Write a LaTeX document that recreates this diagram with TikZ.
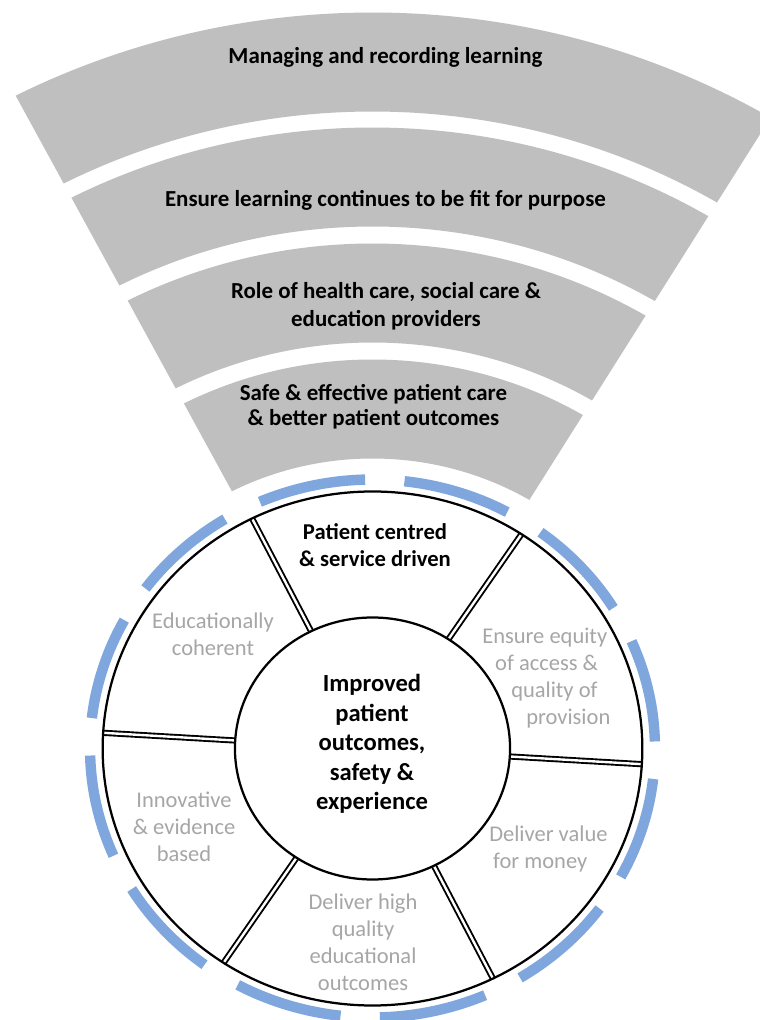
\documentclass[tikz,border=0pt]{standalone}
\usepackage{fontspec}
\setmainfont{Carlito}
\usepackage{tikz}
\definecolor{fangrey}{RGB}{191,191,191}
\definecolor{ringblue}{RGB}{127,167,221}
\definecolor{softgrey}{RGB}{166,166,166}
\tikzset{
    %Define style for the fan bands
    band/.style={
           fill=fangrey,
           draw=none},
    %Define style for band labels
    bandtext/.style={
           font=\bfseries\fontsize{16.3}{20}\selectfont,
           align=center,
           inner sep=0pt,
           text=black},
    %Define style for wheel labels
    segtext/.style={
           font=\fontsize{16}{19.2}\selectfont,
           align=center,
           inner sep=0pt,
           text=softgrey},
    % Define style for the blue outer ring
    ringarc/.style={
           draw=ringblue,
           line width=7.4pt},
    % Define style for the spokes
    spoke/.style={
           line width=1.35pt,
           double=white,
           double distance=1.7pt}
}

\begin{document}
\begin{tikzpicture}[x=0.025cm,y=0.025cm,rim/.style={draw=black,line width=1.6pt}]
\useasboundingbox (0,0) rectangle (760,1020);
\fill[white] (0,0) rectangle (760,1020);

\begin{scope}[shift={(372.5,271.5)},xscale=1.05]
 %fan
 \foreach \ri/\ro in {637/736,522/621,406/505,290/389}
   \fill[band] (59:\ro) arc[start angle=59,end angle=117.5,radius=\ro]
     -- (117.5:\ri) arc[start angle=117.5,end angle=59,radius=\ri] -- cycle;
 %blue ring
 \foreach \k in {0,...,11}
   \draw[ringarc] ({1.5+30*\k}:269) arc[start angle={1.5+30*\k},delta angle=22,radius=269];
 %wheel
 \foreach \a in {-3.5,56.5,...,296.5}
   \draw[spoke] (\a:131) -- (\a:257);
 \draw[rim] (0,0) circle[radius=257];
 \draw[rim] (0,0) circle[radius=131];
\end{scope}

 %nodes
\node[bandtext] (1) at (385.5,963) {Managing and recording learning};
\node[bandtext] (2) at (385.5,820) {Ensure learning continues to be fit for purpose};
\node[bandtext, font=\bfseries\fontsize{16.3}{20}\selectfont] (3) at (386,714) {Role of health care, social care \&\\education providers};
\node[bandtext, font=\bfseries\fontsize{16.3}{17.8}\selectfont] (4) at (373.5,613.5) {Safe \& effective patient care\\\& better patient outcomes};

\node[bandtext, font=\bfseries\fontsize{16.1}{19.2}\selectfont] (5) at (375,474.5) {Patient centred\\\& service driven};
\node[segtext] (6) at (213,385.5) {Educationally\\coherent};
\node[segtext, align=left, anchor=west] (7) at (482,342) {Ensure equity\\\hspace*{9.2pt}of access \&\\\hspace*{20.6pt}quality of\\\hspace*{31.3pt}provision};
\node[segtext, align=left, anchor=west] (8) at (489,170.5) {Deliver value\\\hspace*{2.8pt}for money};
\node[segtext] (9) at (363,77.5) {Deliver high\\quality\\educational\\outcomes};
\node[segtext] (10) at (184,193.3) {Innovative\\\& evidence\\based};

\node[bandtext, font=\bfseries\fontsize{17.5}{21}\selectfont] (11) at (372,276) {Improved\\patient\\outcomes,\\safety \&\\experience};
\end{tikzpicture}
\end{document}
